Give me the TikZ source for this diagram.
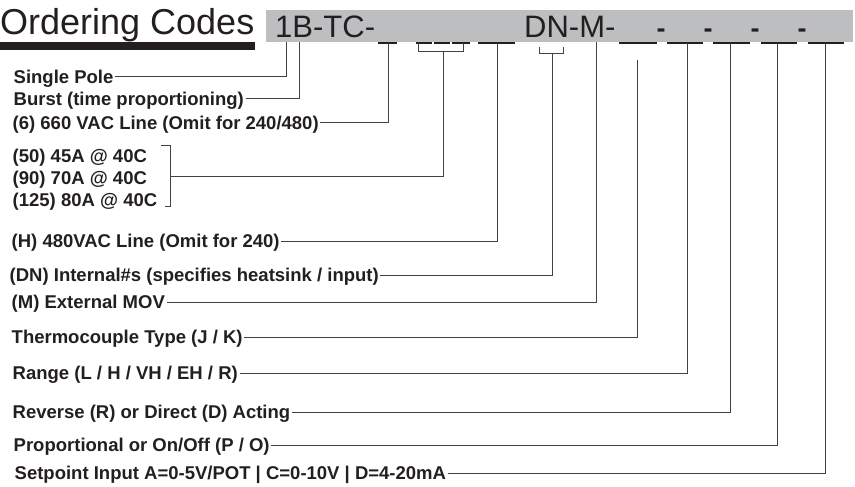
\documentclass[tikz,border=0pt]{standalone}
\usepackage{fontspec}
\setmainfont{Liberation Sans}
\usepackage{xcolor}
\usepackage{tikz}

\definecolor{band}{HTML}{BDBEC0}
\definecolor{ink}{HTML}{231F20}

\begin{document}
\begin{tikzpicture}[
    x=1pt, y=-1pt,
    desc/.style={anchor=west, inner xsep=1.5pt, inner ysep=0pt, text height=13pt, text depth=0pt, text=ink, font=\bfseries\fontsize{18.5}{20}\selectfont},
    codetext/.style={anchor=base west, inner sep=0pt, text=ink, font=\fontsize{31}{32}\selectfont},
    leader/.style={draw=ink!85, line width=1pt},
    slot/.style={draw=ink, line width=1.3pt}
]
    \useasboundingbox (0,0) rectangle (855,487);

    % Title
    \node[anchor=base west, inner sep=0pt, text=ink, font=\fontsize{36}{40}\selectfont] (title) at (0,35) {Ordering Codes};
    \fill[ink] (0,42) rectangle (255,50);

    % Code band
    \fill[band] (266,10) rectangle (853,42);
    \node[codetext] (code1) at (275,38) {1B-TC-};
    \node[codetext] (code2) at (524,38) {DN-M-};
    \foreach \x in {661,708,755,802}
        \node[codetext, anchor=base, font=\bfseries\fontsize{27}{28}\selectfont] at (\x,38) {-};
    \foreach \a/\b in {378/397, 416/432, 434/450, 452/470, 478/515, 619/657, 667/703, 713/750, 761/797, 808/844}
        \draw[slot] (\a,43) -- (\b,43);

    % Brackets under the code
    \draw[leader] (418,43) -- (418,52) -- (463,52) -- (463,43);
    \draw[leader] (539,47) -- (539,54) -- (563,54) -- (563,47);

    % Code positions
    \coordinate (k-pole) at (286,42);
    \coordinate (k-burst) at (299,42);
    \coordinate (k-vac) at (388,43);
    \coordinate (k-amp) at (443,52);
    \coordinate (k-hv) at (497,43);
    \coordinate (k-dn) at (552,54);
    \coordinate (k-mov) at (596,42);
    \coordinate (k-tc) at (637,60);
    \coordinate (k-range) at (687,43);
    \coordinate (k-act) at (730,43);
    \coordinate (k-prop) at (777,43);
    \coordinate (k-setp) at (825,43);

    % Descriptions
    \node[desc] (pole) at (12,77) {Single Pole};
    \node[desc] (burst) at (12,99) {Burst (time proportioning)};
    \node[desc] (vac) at (11,123) {(6) 660 VAC Line (Omit for 240/480)~};
    \node[desc] (amp50) at (11,156) {(50) 45A @ 40C};
    \node[desc] (amp90) at (11,178) {(90) 70A @ 40C};
    \node[desc] (amp125) at (11,200) {(125) 80A @ 40C};
    \node[desc] (hv) at (10,241) {(H) 480VAC Line (Omit for 240)};
    \node[desc] (dn) at (8,275) {(DN) Internal\#s (specifies heatsink / input)};
    \node[desc] (mov) at (10,302) {(M) External MOV};
    \node[desc] (tc) at (10,337) {Thermocouple Type (J / K)};
    \node[desc] (range) at (11,373) {Range (L / H / VH / EH / R)~};
    \node[desc] (act) at (11,412) {Reverse (R) or Direct (D) Acting};
    \node[desc] (prop) at (12,445) {Proportional or On/Off (P / O)~};
    \node[desc] (setp) at (13,473) {Setpoint Input A=0-5V/POT | C=0-10V | D=4-20mA};

    % Bracket round the amp ratings
    \draw[leader] (161,145) -- (170,145) -- (170,206) -- (165,206);
    \coordinate (amps) at (170,176);

    % Leaders
    \draw[leader] (pole) -| (k-pole);
    \draw[leader] (burst) -| (k-burst);
    \draw[leader] (vac) -| (k-vac);
    \draw[leader] (amps) -| (k-amp);
    \draw[leader] (hv) -| (k-hv);
    \draw[leader] (dn) -| (k-dn);
    \draw[leader] (mov) -| (k-mov);
    \draw[leader] (tc) -| (k-tc);
    \draw[leader] (range) -| (k-range);
    \draw[leader] (act) -| (k-act);
    \draw[leader] (prop) -| (k-prop);
    \draw[leader] (setp) -| (k-setp);
\end{tikzpicture}
\end{document}
